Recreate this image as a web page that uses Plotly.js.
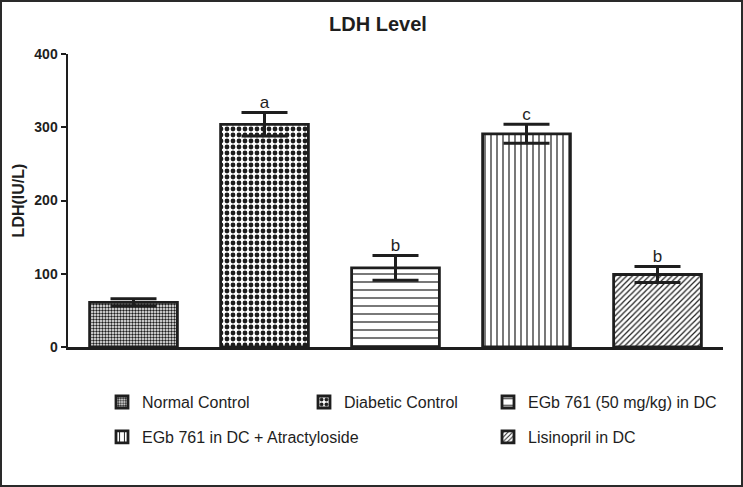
<!DOCTYPE html>
<html>
<head>
<meta charset="utf-8">
<script src="https://cdn.plot.ly/plotly-3.0.1.min.js"></script>
<style>
  html, body { margin: 0; padding: 0; background: #fff; }
  #wrap { position: relative; width: 743px; height: 487px; }
  #chart { width: 743px; height: 487px; }
  #frame { position: absolute; left: 0; top: 0; width: 743px; height: 487px; box-sizing: border-box; border: 2px solid #2a2a2a; pointer-events: none; }
</style>
</head>
<body>
<div id="wrap"><div id="chart"></div><div id="frame"></div></div>
<script>
// ---- data ----
const groups = ["Normal Control", "Diabetic Control", "EGb 761 (50 mg/kg) in DC", "EGb 761 in DC + Atractyloside", "Lisinopril in DC"];
const barCategory = ["NC", "DC", "EGb", "EGbAtr", "Lis"];
const ldhMean = [61, 304, 108, 291, 99];
const ldhSem = [5, 16, 17, 13, 11];
const sigLetters = ["", "a", "b", "c", "b"];
const patternShapes = [".", ".", "-", "|", "/"];
const patternSizes = [3, 6, 8, 6, 4];
const patternSolidity = [0.5, 0.5, 0.15, 0.2, 0.3];
const legendIds = ["legend", "legend2", "legend3", "legend", "legend3"];

const ink = "#1e1e1e";
const traces = groups.map((name, i) => ({
  type: "bar",
  name: name,
  x: [barCategory[i]],
  y: [ldhMean[i]],
  legend: legendIds[i],
  legendgroup: "g" + i,
  marker: {
    color: "#ffffff",
    line: { color: ink, width: 2.8 },
    pattern: { shape: patternShapes[i], size: patternSizes[i], solidity: patternSolidity[i], fgcolor: ink, bgcolor: "#ffffff", fillmode: "replace" }
  },
  error_y: { type: "data", array: [ldhSem[i]], visible: true, color: ink, thickness: 3, width: 23 },
  hoverinfo: "skip"
}));

traces.push({
  type: "scatter",
  mode: "text",
  x: barCategory,
  y: ldhMean.map((v, i) => v + ldhSem[i]),
  text: sigLetters,
  textposition: "top center",
  textfont: { family: "Liberation Sans, Arial, sans-serif", size: 17, color: ink },
  showlegend: false,
  hoverinfo: "skip"
});

const fontFam = "Liberation Sans, Arial, Helvetica, sans-serif";
const legendBase = {
  orientation: "v",
  xanchor: "left",
  yanchor: "top",
  y: -0.13,
  bgcolor: "rgba(0,0,0,0)",
  font: { family: fontFam, size: 16, color: ink },
  tracegroupgap: 11,
  traceorder: "grouped"
};

const layout = {
  width: 743,
  height: 487,
  paper_bgcolor: "#ffffff",
  plot_bgcolor: "#ffffff",
  margin: { l: 68, r: 20, t: 54, b: 140 },
  font: { family: fontFam, color: ink },
  title: { text: "<b>LDH Level</b>", x: 378 / 743, xanchor: "center", y: 1 - 24 / 487, yanchor: "middle", font: { family: fontFam, size: 20, color: ink } },
  barmode: "overlay",
  bargap: 0.33,
  xaxis: {
    type: "category",
    categoryorder: "array",
    categoryarray: barCategory,
    range: [-0.5, 4.5],
    showline: true, linecolor: ink, linewidth: 2.5,
    showticklabels: false, ticks: "", showgrid: false, zeroline: false, fixedrange: true
  },
  yaxis: {
    range: [0, 400],
    tickvals: [0, 100, 200, 300, 400],
    showline: true, linecolor: ink, linewidth: 2.5,
    ticks: "outside", ticklen: 5, tickwidth: 2, tickcolor: ink,
    showgrid: false, zeroline: false,
    tickfont: { family: fontFam, size: 14, color: ink, weight: "bold" },
    title: { text: "<b>LDH(IU/L)</b>", font: { family: fontFam, size: 16, color: ink }, standoff: 6 },
    fixedrange: true
  },
  legend: Object.assign({}, legendBase, { x: (102 - 68) / 655 }),
  legend2: Object.assign({}, legendBase, { x: (304 - 68) / 655 }),
  legend3: Object.assign({}, legendBase, { x: (488 - 68) / 655 }),
  showlegend: true
};

Plotly.newPlot("chart", traces, layout, { staticPlot: true, displayModeBar: false });
</script>
</body>
</html>
